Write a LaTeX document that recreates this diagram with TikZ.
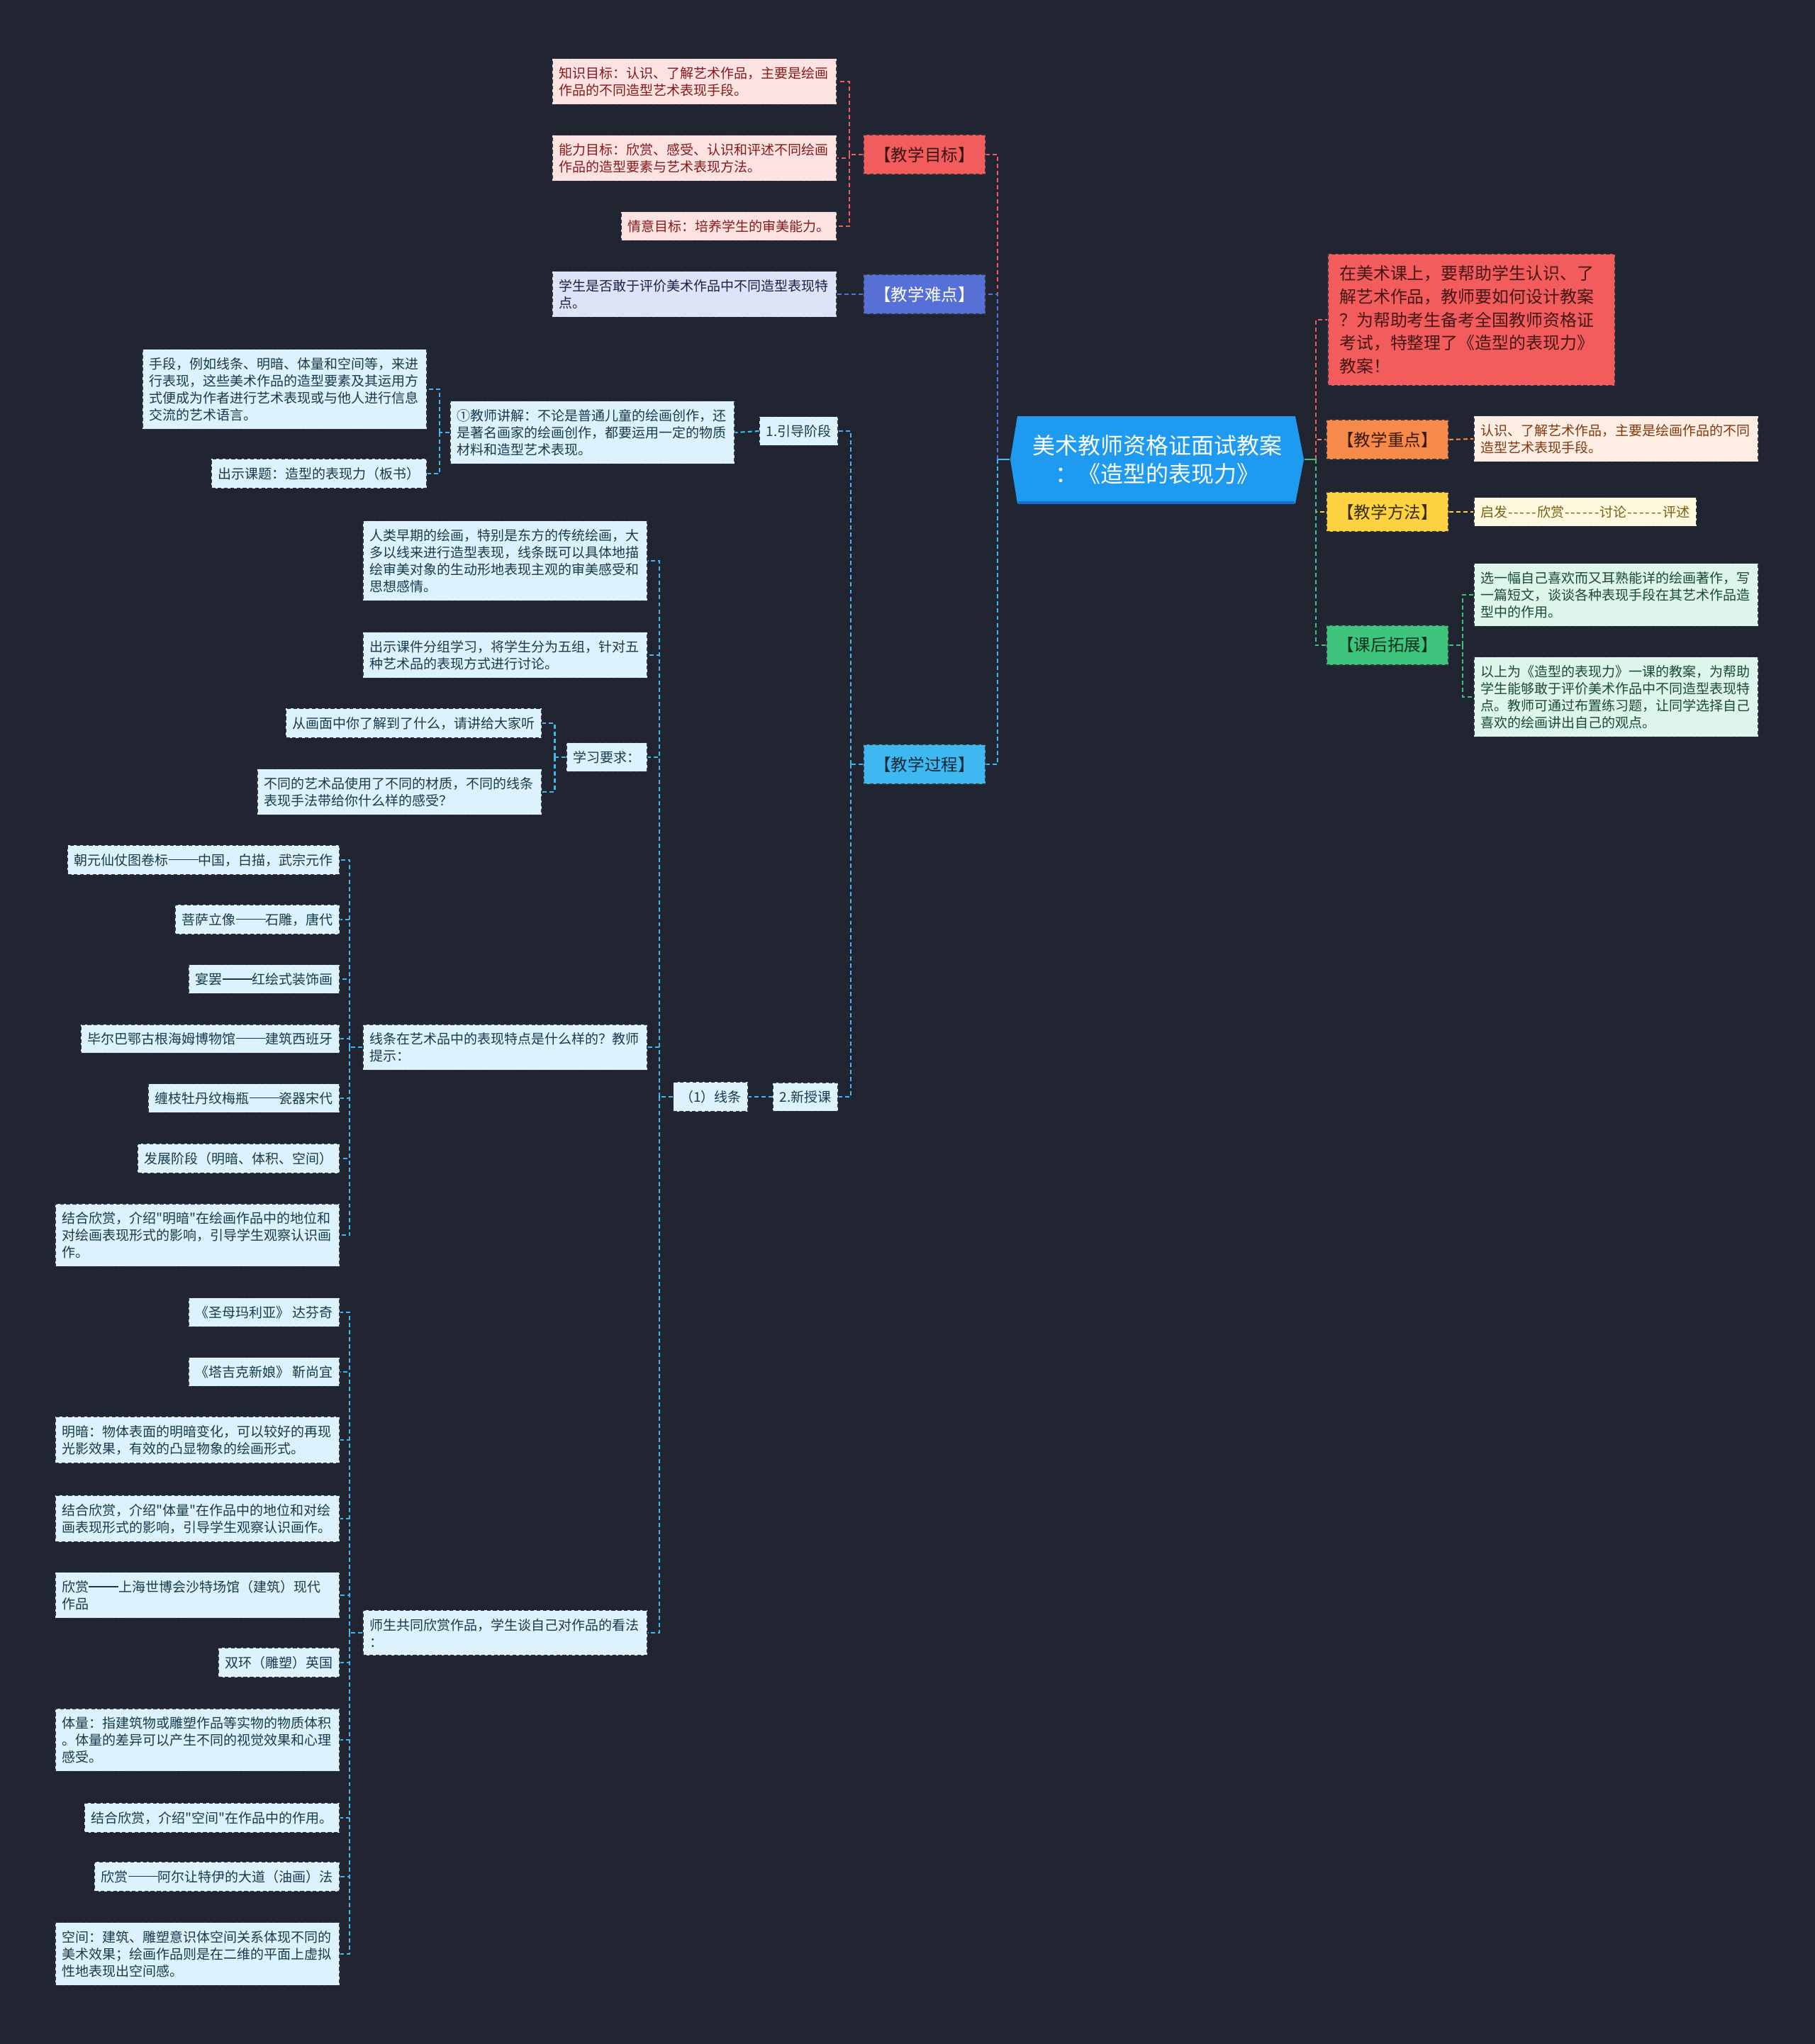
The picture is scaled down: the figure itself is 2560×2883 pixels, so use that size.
\documentclass[tikz,border=0pt]{standalone}
\usepackage{fontspec}
\newfontfamily\cjk{Noto Sans CJK SC}
\usetikzlibrary{calc}

\definecolor{bgc}{RGB}{33,37,50}
\definecolor{edgec}{RGB}{48,50,60}
\definecolor{rootc}{RGB}{30,155,240}
\definecolor{rootd}{RGB}{22,112,205}
\definecolor{redc}{RGB}{242,92,92}
\definecolor{redl}{RGB}{253,226,226}
\definecolor{redt}{RGB}{135,25,25}
\definecolor{bluec}{RGB}{86,112,216}
\definecolor{bluel}{RGB}{222,228,247}
\definecolor{bluet}{RGB}{25,32,70}
\definecolor{cyanc}{RGB}{62,184,240}
\definecolor{cyanl}{RGB}{220,243,253}
\definecolor{cyant}{RGB}{22,58,78}
\definecolor{orgc}{RGB}{246,138,74}
\definecolor{orgl}{RGB}{253,237,226}
\definecolor{orgt}{RGB}{128,56,14}
\definecolor{yelc}{RGB}{253,210,64}
\definecolor{yell}{RGB}{254,248,222}
\definecolor{yelt}{RGB}{115,98,18}
\definecolor{grnc}{RGB}{62,196,124}
\definecolor{grnl}{RGB}{221,245,234}
\definecolor{grnt}{RGB}{24,76,46}

% 长破折号与连字符
\newcommand{\dline}{\rule[0.36em]{0.42cm}{0.45pt}}
\newcommand{\hy}{\makebox[0.084cm]{-}}

\begin{document}
\begin{tikzpicture}[x=0.01cm, y=-0.01cm,
    leaf/.style={draw=edgec, dash pattern=on 1.5pt off 1pt, line width=0.45pt,
        inner xsep=0.095cm, inner ysep=0.115cm, align=left,
        font=\cjk\fontsize{5.4}{6.83}\selectfont},
    wide/.style={text width=3.82cm},
    rleaf/.style={leaf, fill=redl, text=redt},
    bleaf/.style={leaf, fill=bluel, text=bluet},
    cleaf/.style={leaf, fill=cyanl, text=cyant},
    oleaf/.style={leaf, fill=orgl, text=orgt},
    yleaf/.style={leaf, fill=yell, text=yelt},
    gleaf/.style={leaf, fill=grnl, text=grnt},
    cat/.style={draw=edgec, dash pattern=on 1.5pt off 1pt, line width=0.45pt,
        minimum width=1.72cm, minimum height=0.56cm, inner sep=0pt,
        font=\cjk\fontsize{6.7}{7.8}\selectfont},
    link/.style={dash pattern=on 1.7pt off 1.15pt, line width=0.6pt},
    trunk/.style={line width=0.7pt},
]
    % 背景
    \fill[bgc] (0,0) rectangle (2560,2883);

    % 中心主题
    \fill[rootc] (1435,587) -- (1827,587) -- (1839,648) -- (1827,710) -- (1435,710) -- (1425,648) -- cycle;
    \draw[rootd, line width=1pt] (1436,709) -- (1826,709);
    \node[font=\cjk\fontsize{9.1}{11.4}\selectfont, text=white, align=center,
        minimum width=4.14cm, minimum height=1.23cm, inner sep=0pt] (root) at (1632,648)
        {美术教师资格证面试教案\\：《造型的表现力》};

    % 右侧分支
    \node[leaf, fill=redc, text={rgb,255:red,70;green,22;blue,22}, anchor=west, text width=3.72cm,
        inner xsep=0.165cm, inner ysep=0.16cm, font=\cjk\fontsize{6.8}{9.3}\selectfont] (intro) at (1872,451)
        {在美术课上，要帮助学生认识、了\\解艺术作品，教师要如何设计教案\\？为帮助考生备考全国教师资格证\\考试，特整理了《造型的表现力》\\教案！};
    \node[cat, fill=orgc, text={rgb,255:red,60;green,25;blue,5}] (zhongdian) at (1957,620) {【教学重点】};
    \node[cat, fill=yelc, text={rgb,255:red,60;green,45;blue,5}] (fangfa) at (1957,722) {【教学方法】};
    \node[cat, fill=grnc, text={rgb,255:red,15;green,50;blue,30}] (tuozhan) at (1957,910) {【课后拓展】};

    \node[oleaf, wide, anchor=west] (zdnote) at (2078,619) {认识、了解艺术作品，主要是绘画作品的不同\\造型艺术表现手段。};
    \node[yleaf, anchor=west] (ffnote) at (2078,722) {启发\hy\hy\hy\hy\hy 欣赏\hy\hy\hy\hy\hy\hy 讨论\hy\hy\hy\hy\hy\hy 评述};
    \node[gleaf, wide, anchor=west] (tznote1) at (2078,839) {选一幅自己喜欢而又耳熟能详的绘画著作，写\\一篇短文，谈谈各种表现手段在其艺术作品造\\型中的作用。};
    \node[gleaf, wide, anchor=west] (tznote2) at (2078,983) {以上为《造型的表现力》一课的教案，为帮助\\学生能够敢于评价美术作品中不同造型表现特\\点。教师可通过布置练习题，让同学选择自己\\喜欢的绘画讲出自己的观点。};

    % 左侧一级分支
    \node[cat, fill=redc, text={rgb,255:red,55;green,20;blue,20}] (mubiao) at (1304,218) {【教学目标】};
    \node[cat, fill=bluec, text=white] (nandian) at (1304,415) {【教学难点】};
    \node[cat, fill=cyanc, text={rgb,255:red,20;green,40;blue,55}] (guocheng) at (1304,1078) {【教学过程】};

    % 教学目标
    \node[rleaf, wide, anchor=east] (zhishi) at (1181,115) {知识目标：认识、了解艺术作品，主要是绘画\\作品的不同造型艺术表现手段。};
    \node[rleaf, wide, anchor=east] (nengli) at (1181,223) {能力目标：欣赏、感受、认识和评述不同绘画\\作品的造型要素与艺术表现方法。};
    \node[rleaf, anchor=east] (qingyi) at (1181,319) {情意目标：培养学生的审美能力。};

    % 教学难点
    \node[bleaf, wide, anchor=east] (nandnote) at (1181,415) {学生是否敢于评价美术作品中不同造型表现特\\点。};

    % 教学过程
    \node[cleaf, anchor=east] (yindao) at (1183,608) {1.引导阶段};
    \node[cleaf, anchor=east] (xinshou) at (1183,1547) {2.新授课};
    \node[cleaf, wide, anchor=east] (jiangjie) at (1037,610) {①教师讲解：不论是普通儿童的绘画创作，还\\是著名画家的绘画创作，都要运用一定的物质\\材料和造型艺术表现。};
    \node[cleaf, wide, anchor=east] (shouduan) at (603,549) {手段，例如线条、明暗、体量和空间等，来进\\行表现，这些美术作品的造型要素及其运用方\\式便成为作者进行艺术表现或与他人进行信息\\交流的艺术语言。};
    \node[cleaf, anchor=east] (keti) at (603,668) {出示课题：造型的表现力（板书）};

    \node[cleaf, anchor=east] (xiantiao) at (1056,1547) {（1）线条};
    \node[cleaf, wide, anchor=east] (zaoqi) at (914,791) {人类早期的绘画，特别是东方的传统绘画，大\\多以线来进行造型表现，线条既可以具体地描\\绘审美对象的生动形地表现主观的审美感受和\\思想感情。};
    \node[cleaf, wide, anchor=east] (kejian) at (914,924) {出示课件分组学习，将学生分为五组，针对五\\种艺术品的表现方式进行讨论。};
    \node[cleaf, anchor=east] (yaoqiu) at (914,1068) {学习要求：};
    \node[cleaf, wide, anchor=east] (tedian) at (914,1477) {线条在艺术品中的表现特点是什么样的？教师\\提示：};
    \node[cleaf, wide, anchor=east] (gongshang) at (914,2303) {师生共同欣赏作品，学生谈自己对作品的看法\\：};

    \node[cleaf, anchor=east] (huamian) at (765,1020) {从画面中你了解到了什么，请讲给大家听};
    \node[cleaf, wide, anchor=east] (caizhi) at (765,1117) {不同的艺术品使用了不同的材质，不同的线条\\表现手法带给你什么样的感受？};

    % 线条的表现特点
    \node[cleaf, anchor=east] (t1) at (480,1213) {朝元仙仗图卷标\dline 中国，白描，武宗元作};
    \node[cleaf, anchor=east] (t2) at (480,1297) {菩萨立像\dline 石雕，唐代};
    \node[cleaf, anchor=east] (t3) at (480,1381) {宴罢\dline 红绘式装饰画};
    \node[cleaf, anchor=east] (t4) at (480,1465) {毕尔巴鄂古根海姆博物馆\dline 建筑西班牙};
    \node[cleaf, anchor=east] (t5) at (480,1549) {缠枝牡丹纹梅瓶\dline 瓷器宋代};
    \node[cleaf, anchor=east] (t6) at (480,1634) {发展阶段（明暗、体积、空间）};
    \node[cleaf, wide, anchor=east] (t7) at (480,1742) {结合欣赏，介绍"明暗"在绘画作品中的地位和\\对绘画表现形式的影响，引导学生观察认识画\\作。};

    % 共同欣赏作品
    \node[cleaf, anchor=east] (s1) at (480,1851) {《圣母玛利亚》 达芬奇};
    \node[cleaf, anchor=east] (s2) at (480,1935) {《塔吉克新娘》 靳尚宜};
    \node[cleaf, wide, anchor=east] (s3) at (480,2031) {明暗：物体表面的明暗变化，可以较好的再现\\光影效果，有效的凸显物象的绘画形式。};
    \node[cleaf, wide, anchor=east] (s4) at (480,2142) {结合欣赏，介绍"体量"在作品中的地位和对绘\\画表现形式的影响，引导学生观察认识画作。};
    \node[cleaf, wide, anchor=east] (s5) at (480,2250) {欣赏\dline 上海世博会沙特场馆（建筑）现代\\作品};
    \node[cleaf, anchor=east] (s6) at (480,2345) {双环（雕塑）英国};
    \node[cleaf, wide, anchor=east] (s7) at (480,2454) {体量：指建筑物或雕塑作品等实物的物质体积\\。体量的差异可以产生不同的视觉效果和心理\\感受。};
    \node[cleaf, anchor=east] (s8) at (480,2564) {结合欣赏，介绍"空间"在作品中的作用。};
    \node[cleaf, anchor=east] (s9) at (480,2647) {欣赏\dline 阿尔让特伊的大道（油画）法};
    \node[cleaf, wide, anchor=east] (s10) at (480,2756) {空间：建筑、雕塑意识体空间关系体现不同的\\美术效果；绘画作品则是在二维的平面上虚拟\\性地表现出空间感。};

    % 连线：中心到一级
    \draw[trunk, cyanc] (root.west) -- ++(-17,0) coordinate (lj);
    \draw[link, redc] (lj) |- (mubiao.east);
    \draw[link, bluec] (lj) |- (nandian.east);
    \draw[link, cyanc] (lj) |- (guocheng.east);
    \draw[trunk, grnc] (root.east) -- ++(16,0) coordinate (rj);
    \draw[link, orgc] (rj) |- (zhongdian.west);
    \draw[link, redc] (rj) |- (intro.west);
    \draw[link, yelc] (rj) |- (fangfa.west);
    \draw[link, grnc] (rj) |- (tuozhan.west);

    % 连线：右侧
    \draw[link, orgc] (zhongdian.east) -- (zdnote.west);
    \draw[link, yelc] (fangfa.east) -- (ffnote.west);
    \draw[link, grnc] (tuozhan.east) -- ++(19,0) coordinate (tj);
    \foreach \n in {tznote1,tznote2} \draw[link, grnc] (tj) |- (\n.west);

    % 连线：左侧
    \draw[link, redc] (mubiao.west) -- ++(-19,0) coordinate (mj);
    \foreach \n in {zhishi,nengli,qingyi} \draw[link, redc] (mj) |- (\n.east);
    \draw[link, bluec] (nandian.west) -- (nandnote.east);
    \draw[link, cyanc] (guocheng.west) -- ++(-17,0) coordinate (gj);
    \foreach \n in {yindao,xinshou} \draw[link, cyanc] (gj) |- (\n.east);
    \draw[link, cyanc] (yindao.west) -- (jiangjie.east);
    \draw[link, cyanc] (jiangjie.west) -- ++(-14,0) coordinate (jj);
    \foreach \n in {shouduan,keti} \draw[link, cyanc] (jj) |- (\n.east);
    \draw[link, cyanc] (xinshou.west) -- (xiantiao.east);
    \draw[link, cyanc] (xiantiao.west) -- ++(-19,0) coordinate (xj);
    \foreach \n in {zaoqi,kejian,yaoqiu,tedian,gongshang} \draw[link, cyanc] (xj) |- (\n.east);
    \draw[link, cyanc] (yaoqiu.west) -- ++(-16,0) coordinate (yj);
    \foreach \n in {huamian,caizhi} \draw[link, cyanc] (yj) |- (\n.east);
    \draw[link, cyanc] (tedian.west) -- ++(-18,0) coordinate (dj);
    \foreach \n in {t1,t2,t3,t4,t5,t6,t7} \draw[link, cyanc] (dj) |- (\n.east);
    \draw[link, cyanc] (gongshang.west) -- ++(-18,0) coordinate (sj);
    \foreach \n in {s1,s2,s3,s4,s5,s6,s7,s8,s9,s10} \draw[link, cyanc] (sj) |- (\n.east);
\end{tikzpicture}
\end{document}
